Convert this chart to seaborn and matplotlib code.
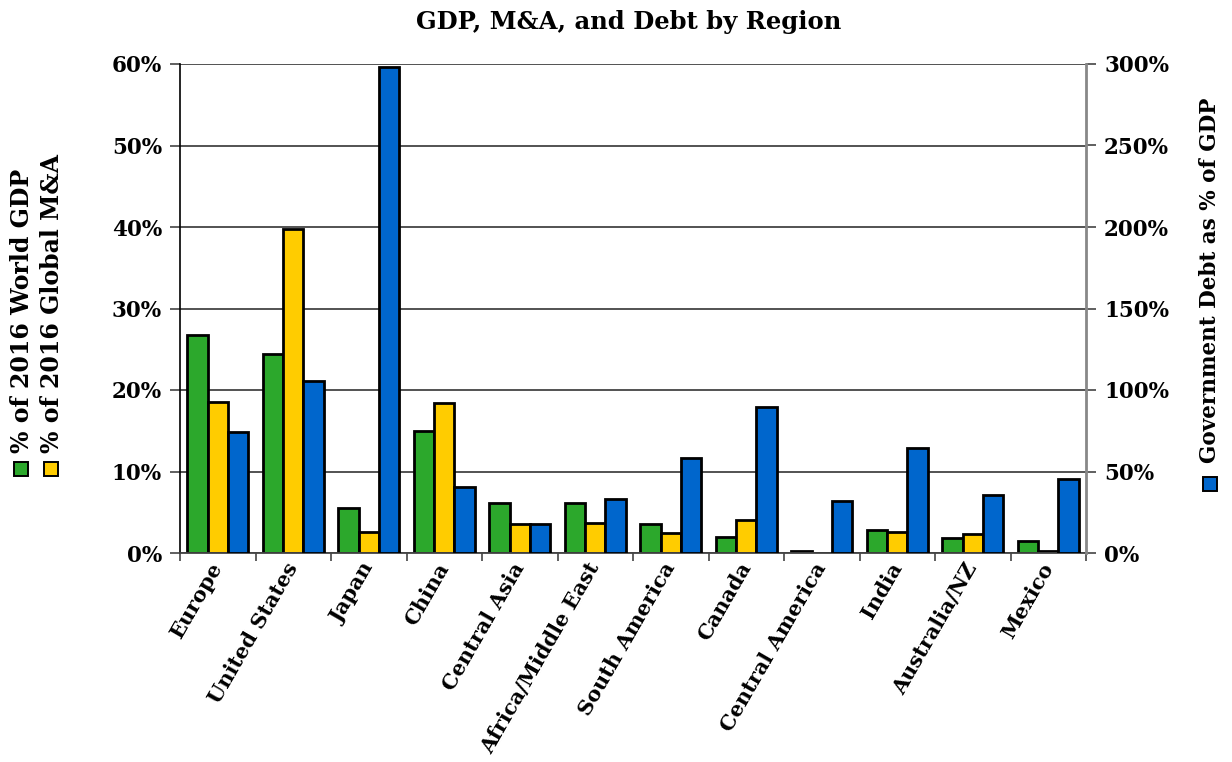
import matplotlib
matplotlib.use("Agg")
import matplotlib.pyplot as plt
from matplotlib.patches import Rectangle
from matplotlib.ticker import FuncFormatter, MultipleLocator, FixedLocator
import numpy as np
import pandas as pd
import seaborn as sns

regions = ["Europe", "United States", "Japan", "China", "Central Asia",
           "Africa/Middle East", "South America", "Canada", "Central America",
           "India", "Australia/NZ", "Mexico"]
world_gdp = [26.8, 24.4, 5.5, 15.0, 6.1, 6.1, 3.6, 2.0, 0.3, 2.8, 1.8, 1.5]
global_ma = [18.5, 39.7, 2.6, 18.4, 3.6, 3.7, 2.5, 4.0, 0.05, 2.6, 2.3, 0.3]
govt_debt = [74.0, 105.5, 298.0, 40.7, 17.8, 33.0, 58.3, 89.6, 31.7, 64.4, 35.6, 45.2]

series_names = ["% of 2016 World GDP", "% of 2016 Global M&A",
                "Government Debt as % of GDP"]
colors = ["#2ca82c", "#ffcc00", "#0066cc"]

sns.set_theme(style="white")
plt.rcParams["font.family"] = ["DejaVu Serif"]
plt.rcParams["font.weight"] = "bold"
for key in ("text.color", "axes.labelcolor", "xtick.color", "ytick.color"):
    plt.rcParams[key] = "black"

df = pd.DataFrame({
    "region": regions * 3,
    "series": np.repeat(series_names, len(regions)),
    "value": world_gdp + global_ma + govt_debt,
})
left_df = df.copy()
left_df.loc[left_df["series"] == series_names[2], "value"] = np.nan
right_df = df.copy()
right_df.loc[right_df["series"] != series_names[2], "value"] = np.nan

fig = plt.figure(figsize=(12.32, 7.62), dpi=100)
W, H = 1232, 762
ax = fig.add_axes([180 / W, 1 - 553 / H, 906 / W, 489 / H])
ax2 = ax.twinx()

palette = dict(zip(series_names, colors))
kw = dict(x="region", y="value", hue="series", hue_order=series_names,
          order=regions, palette=palette, width=0.81, saturation=1,
          edgecolor="black", linewidth=2.0, errorbar=None, legend=False)
sns.barplot(data=left_df, ax=ax, **kw)
sns.barplot(data=right_df, ax=ax2, **kw)

ax.set_xlim(-0.5, len(regions) - 0.5)
ax.set_ylim(0, 60)
ax2.set_ylim(0, 300)
ax.yaxis.set_major_locator(MultipleLocator(10))
ax2.yaxis.set_major_locator(MultipleLocator(50))
ax.yaxis.set_major_formatter(FuncFormatter(lambda v, p: f"{v:.0f}%"))
ax2.yaxis.set_major_formatter(FuncFormatter(lambda v, p: f"{v:.0f}%"))

ax.grid(axis="y", color="#444444", linewidth=1.3)
ax.set_axisbelow(True)
ax2.grid(False)
ax.set_xlabel("")
ax.set_ylabel("")
ax2.set_ylabel("")
ax2.set_xlabel("")

for a in (ax, ax2):
    for s in a.spines.values():
        s.set_visible(False)
ax.spines["left"].set_visible(True)
ax.spines["left"].set_color("black")
ax.spines["left"].set_linewidth(1.2)
ax2.spines["right"].set_visible(True)
ax2.spines["right"].set_color("#888888")
ax2.spines["right"].set_linewidth(2.0)
ax.spines["bottom"].set_visible(True)
ax.spines["bottom"].set_color("#444444")
ax.spines["bottom"].set_linewidth(1.3)

ax.tick_params(axis="y", left=True, length=7, width=1.2, color="#444444",
               labelsize=15.5, pad=6)
ax2.tick_params(axis="y", right=True, length=7, width=1.2, color="#444444",
                labelsize=15.5, pad=6)
for lab in ax.get_yticklabels() + ax2.get_yticklabels():
    lab.set_fontweight("bold")

# category boundary ticks on the x axis, labels at group centers
ax.xaxis.set_minor_locator(FixedLocator(np.arange(-0.5, len(regions), 1.0)))
ax.tick_params(axis="x", which="minor", bottom=True, length=6, width=1.2,
               color="#444444")
ax.tick_params(axis="x", which="major", bottom=False, length=0, pad=8)
ax.set_xticks(range(len(regions)))
ax.set_xticklabels(regions, rotation=60, ha="right", va="center",
                   rotation_mode="anchor", fontsize=15, fontweight="bold")

# title
fig.text(629 / W, 1 - 22 / H, "GDP, M&A, and Debt by Region",
         ha="center", va="center", fontsize=17.5, fontweight="bold")

# axis titles with colour keys
def key_square(xc, yc, color):
    s = 14
    fig.patches.append(Rectangle(((xc - s / 2) / W, 1 - (yc + s / 2) / H),
                                 s / W, s / H, transform=fig.transFigure,
                                 facecolor=color, edgecolor="black",
                                 linewidth=1.4))

fig.text(22 / W, 1 - 453 / H, series_names[0], rotation=90, ha="center",
         va="bottom", fontsize=17, fontweight="bold")
fig.text(52 / W, 1 - 453 / H, series_names[1], rotation=90, ha="center",
         va="bottom", fontsize=17, fontweight="bold")
fig.text(1210 / W, 1 - 463 / H, series_names[2], rotation=90, ha="center",
         va="bottom", fontsize=15.5, fontweight="bold")
key_square(21, 469, colors[0])
key_square(51, 469, colors[1])
key_square(1210, 484, colors[2])

fig.savefig("out.png", dpi=100)
